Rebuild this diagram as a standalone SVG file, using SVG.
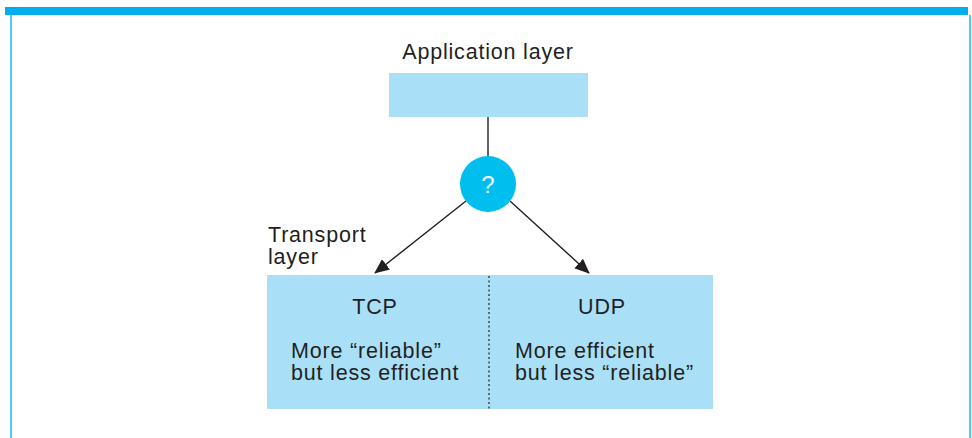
<svg xmlns="http://www.w3.org/2000/svg" width="972" height="438" viewBox="0 0 972 438">
<defs>
<style>
.t{font-family:"Liberation Sans",Arial,sans-serif;font-size:21.5px;fill:#231f20;letter-spacing:0.8px}
.box{fill:#a9e0f8}
.ln{stroke:#231f20;stroke-width:1.4;fill:none}
</style>
<marker id="ah" markerWidth="15" markerHeight="13" refX="14" refY="6.5" orient="auto" markerUnits="userSpaceOnUse" viewBox="0 0 15 13">
<path d="M0,0 L15,6.5 L0,13 z" fill="#231f20"/>
</marker>
</defs>
<rect x="0" y="0" width="972" height="438" fill="#fff"/>
<g id="frame">
<rect x="5" y="7" width="963" height="8" fill="#00aeef"/>
<line x1="11" y1="15" x2="11" y2="438" stroke="#4fc8f2" stroke-width="2"/>
<line x1="970" y1="15" x2="970" y2="438" stroke="#4fc8f2" stroke-width="2"/>
</g>
<g id="app">
<text class="t" x="488" y="59" text-anchor="middle">Application layer</text>
<rect class="box" x="389" y="73" width="199" height="44"/>
</g>
<g id="connectors">
<line class="ln" x1="488" y1="117" x2="488" y2="157"/>
<line class="ln" x1="466" y1="201" x2="375" y2="273" marker-end="url(#ah)"/>
<line class="ln" x1="510" y1="201" x2="589" y2="273" marker-end="url(#ah)"/>
</g>
<g id="choice">
<circle cx="488" cy="184" r="28" fill="#00bfef"/>
<text x="488" y="193" text-anchor="middle" style="font-family:'Liberation Sans',Arial,sans-serif;font-size:24px;fill:#fff">?</text>
</g>
<g id="transport">
<text class="t" x="268" y="242">Transport</text>
<text class="t" x="268" y="264">layer</text>
<rect class="box" x="267" y="275" width="446" height="134"/>
<line x1="489" y1="276" x2="489" y2="409" stroke="#231f20" stroke-width="1.2" stroke-dasharray="2,2.5"/>
</g>
<g id="tcp">
<text class="t" x="375" y="314" text-anchor="middle">TCP</text>
<text class="t" x="291" y="358">More “reliable”</text>
<text class="t" x="291" y="380">but less efficient</text>
</g>
<g id="udp">
<text class="t" x="602" y="314" text-anchor="middle">UDP</text>
<text class="t" x="515" y="358">More efficient</text>
<text class="t" x="515" y="380">but less “reliable”</text>
</g>
</svg>
